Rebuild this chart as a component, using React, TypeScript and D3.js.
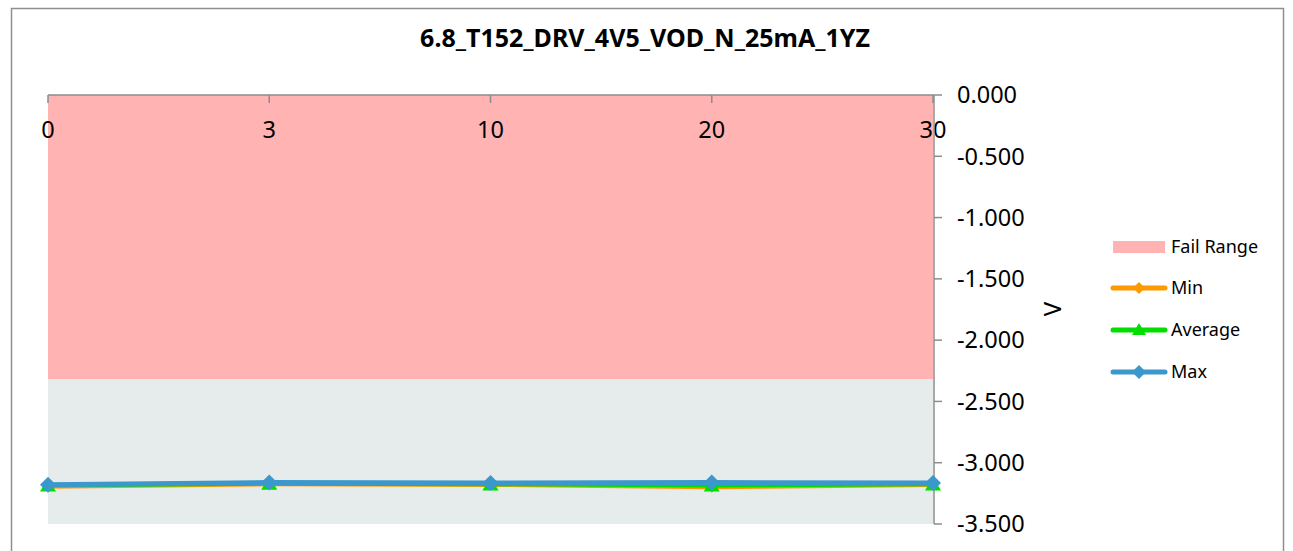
import React from "react";
import * as d3 from "d3";

const categories = ["0", "3", "10", "20", "30"];
const minValues = [-3.2, -3.18, -3.185, -3.205, -3.185];
const avgValues = [-3.19, -3.175, -3.18, -3.19, -3.18];
const maxValues = [-3.18, -3.162, -3.166, -3.162, -3.166];
const failRangeTop = 0;
const failRangeBottom = -2.32;
const yTicks = [0, -0.5, -1, -1.5, -2, -2.5, -3, -3.5];
const title = "6.8_T152_DRV_4V5_VOD_N_25mA_1YZ";
const legendItems = ["Fail Range", "Min", "Average", "Max"];

const FONT = "'Noto Sans', 'Open Sans', sans-serif";

export default function App() {
  const left = 48;
  const right = 933;
  const top = 95;
  const bottom = 524;

  const x = d3.scalePoint<string>().domain(categories).range([left, right]).padding(0);
  const y = d3.scaleLinear().domain([-3.5, 0]).range([bottom, top]);

  const line = d3
    .line<number>()
    .x((_, i) => x(categories[i]) as number)
    .y((d) => y(d));

  const diamond = (cx: number, cy: number, r: number) =>
    `M${cx},${cy - r}L${cx + r},${cy}L${cx},${cy + r}L${cx - r},${cy}Z`;
  const triangle = (cx: number, cy: number, r: number) =>
    `M${cx},${cy - r}L${cx + r},${cy + r * 0.7}L${cx - r},${cy + r * 0.7}Z`;

  const orange = "#FF9900";
  const green = "#00DD00";
  const blue = "#3A98CC";
  const axisColor = "#8C8C8C";

  const legendX = 1113;
  const legendYs = [247, 288, 330, 372];
  const fmt = (t: number) => d3.format(".3f")(t).replace("\u2212", "-");

  return (
    <svg
      width={1293}
      height={551}
      style={{ position: "absolute", left: 0, top: 0, background: "#fff" }}
    >
      <rect x={11.5} y={8.5} width={1272} height={560} fill="#fff" stroke="#8F8F8F" strokeWidth={1.5} />
      <text
        x={645}
        y={47}
        textAnchor="middle"
        fontFamily={FONT}
        fontWeight="bold"
        fontSize={25}
        fill="#000"
      >
        {title}
      </text>

      {/* areas */}
      <rect
        x={left}
        y={y(failRangeTop)}
        width={right - left}
        height={y(failRangeBottom) - y(failRangeTop)}
        fill="#FFB3B3"
      />
      <rect
        x={left}
        y={y(failRangeBottom)}
        width={right - left}
        height={y(-3.5) - y(failRangeBottom)}
        fill="#E6EBEB"
      />

      {/* top x axis */}
      <line x1={left} x2={right + 1} y1={top} y2={top} stroke={axisColor} strokeWidth={1.5} />
      {categories.map((c) => (
        <g key={c}>
          <line
            x1={x(c)}
            x2={x(c)}
            y1={top}
            y2={top + 8}
            stroke={axisColor}
            strokeWidth={1.5}
          />
          <text
            x={x(c)}
            y={138}
            textAnchor="middle"
            fontFamily={FONT}
            fontSize={23.5}
            fill="#000"
          >
            {c}
          </text>
        </g>
      ))}

      {/* right y axis */}
      <line x1={right + 1} x2={right + 1} y1={top} y2={bottom} stroke={axisColor} strokeWidth={1.5} />
      {yTicks.map((t) => (
        <g key={t}>
          <line
            x1={right + 1}
            x2={right + 9}
            y1={y(t)}
            y2={y(t)}
            stroke={axisColor}
            strokeWidth={1.5}
          />
          <text
            x={957}
            y={y(t)}
            dy="0.35em"
            fontFamily={FONT}
            fontSize={23.5}
            fill="#000"
          >
            {fmt(t)}
          </text>
        </g>
      ))}
      <text
        transform={`translate(1061,309) rotate(-90)`}
        textAnchor="middle"
        fontFamily={FONT}
        fontSize={24}
        fill="#000"
      >
        V
      </text>

      {/* series */}
      <path d={line(minValues) || ""} fill="none" stroke={orange} strokeWidth={3} />
      {minValues.map((v, i) => (
        <path key={"mn" + i} d={diamond(x(categories[i]) as number, y(v), 5)} fill={orange} />
      ))}
      <path d={line(avgValues) || ""} fill="none" stroke={green} strokeWidth={3} />
      {avgValues.map((v, i) => (
        <path key={"av" + i} d={triangle(x(categories[i]) as number, y(v), 8)} fill={green} />
      ))}
      <path d={line(maxValues) || ""} fill="none" stroke={blue} strokeWidth={5} />
      {maxValues.map((v, i) => (
        <path key={"mx" + i} d={diamond(x(categories[i]) as number, y(v), 8)} fill={blue} />
      ))}

      {/* legend */}
      <rect x={legendX} y={legendYs[0] - 6} width={52} height={12} fill="#FFB3B3" />
      {[orange, green, blue].map((col, i) => {
        const ly = legendYs[i + 1];
        return (
          <g key={col}>
            <line
              x1={legendX}
              x2={legendX + 52}
              y1={ly}
              y2={ly}
              stroke={col}
              strokeWidth={5}
              strokeLinecap="round"
            />
            {i === 1 ? (
              <path d={triangle(legendX + 26, ly, 7)} fill={col} />
            ) : (
              <path d={diamond(legendX + 26, ly, i === 2 ? 7 : 6)} fill={col} />
            )}
          </g>
        );
      })}
      {legendItems.map((t, i) => (
        <text
          key={t}
          x={1171}
          y={legendYs[i]}
          dy="0.35em"
          fontFamily={FONT}
          fontSize={18}
          fill="#000"
        >
          {t}
        </text>
      ))}
    </svg>
  );
}
